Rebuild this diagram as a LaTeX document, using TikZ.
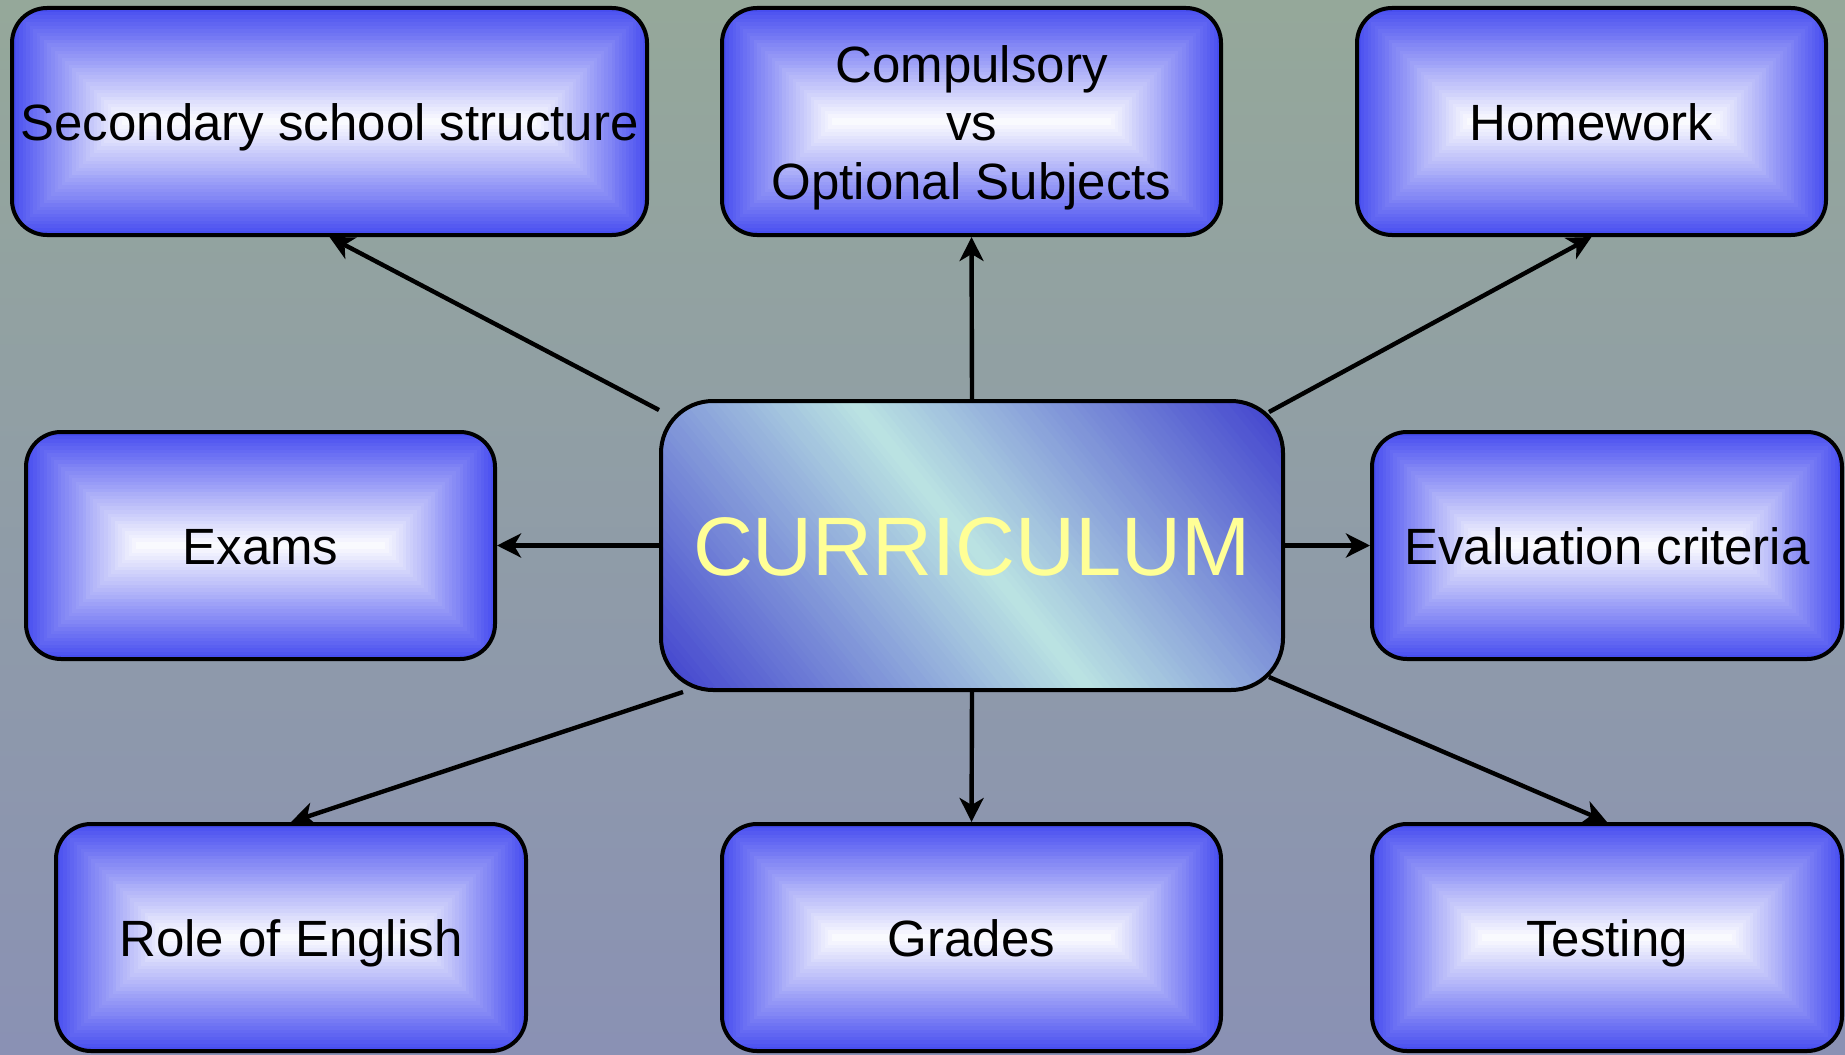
\documentclass[tikz,border=0pt]{standalone}
\usepackage{fontspec}
\setmainfont{Liberation Sans}
\usetikzlibrary{arrows.meta,calc}
\definecolor{boxblue}{RGB}{72,78,240}
\definecolor{bgtop}{RGB}{149,168,154}
\definecolor{bgbot}{RGB}{138,145,180}
\definecolor{cdark}{RGB}{62,62,206}
\definecolor{cpale}{RGB}{186,226,226}
\definecolor{txtyellow}{RGB}{255,255,150}
\tikzset{
  boxnode/.style={draw=black, line width=2pt, rounded corners=17.5pt, inner sep=0pt,
    align=center, text height=19pt, text depth=0pt, font=\fontsize{25.5}{29.25}\selectfont},
  centernode/.style={draw=black, line width=2pt, rounded corners=26pt, inner sep=0pt,
    text=txtyellow, text height=30pt, text depth=0pt, font=\fontsize{41.5}{48}\selectfont},
  arr/.style={draw=black, line width=2.2pt, -{Stealth[length=12pt, width=12pt, inset=3.5pt]}}
}
\newcommand\bevelbox[7][]{%
  \begin{scope}
    \clip[rounded corners=17.5pt] ({#3-#5/2},{#4-#6/2}) rectangle ({#3+#5/2},{#4+#6/2});
    \foreach \i in {0,...,32}{%
      \pgfmathsetmacro\dd{\i*#6/64}%
      \pgfmathtruncatemacro\cc{100-\i*100/32}%
      \fill[boxblue!\cc!white] ({#3-#5/2+\dd},{#4-#6/2+\dd}) rectangle ({#3+#5/2-\dd},{#4+#6/2-\dd});
    }
  \end{scope}
  \node[boxnode, minimum width=#5*0.5pt, minimum height=#6*0.5pt, #1] (#2) at (#3,#4) {#7};
}
\begin{document}
\begin{tikzpicture}[x=0.5pt, y=-0.5pt]
  \shade[top color=bgtop, bottom color=bgbot] (0,0) rectangle (1845,1054);
  \useasboundingbox (0,0) rectangle (1845,1054);

  \bevelbox{b1}{329.5}{121.5}{635}{227}{Secondary school structure}
  \bevelbox[text height=77.5pt]{b2}{971.5}{121.5}{499}{227}{Compulsory\\vs\\Optional Subjects}
  \bevelbox{b3}{1591.5}{121.5}{469}{227}{Homework}
  \bevelbox{b4}{260.5}{545.5}{469}{227}{Exams}
  \bevelbox{b5}{1607}{545.5}{470}{227}{Evaluation criteria}
  \bevelbox{b7}{291}{937.5}{470}{227}{Role of English}
  \bevelbox{b8}{971.5}{937.5}{499}{227}{Grades}
  \bevelbox{b9}{1607}{937.5}{470}{227}{Testing}

  % diagonal shading of the central box
  \begin{scope}
    \clip[rounded corners=26pt] (661,401) rectangle (1283,690);
    \foreach \t in {-348,-342,...,342}{%
      \pgfmathtruncatemacro\p{min(100,abs(\t+3)/332*100)}%
      \fill[cdark!\p!cpale]
        ({972+\t*0.7748-420*0.6327},{545.5-\t*0.6327-420*0.7748}) --
        ({972+\t*0.7748+420*0.6327},{545.5-\t*0.6327+420*0.7748}) --
        ({972+(\t+7)*0.7748+420*0.6327},{545.5-(\t+7)*0.6327+420*0.7748}) --
        ({972+(\t+7)*0.7748-420*0.6327},{545.5-(\t+7)*0.6327-420*0.7748}) -- cycle;
    }
  \end{scope}
  \node[centernode, minimum width=311pt, minimum height=144.5pt] (c) at (972,545.5) {CURRICULUM};

  \coordinate (s1) at ($(c.north west)+(0,11)$);
  \coordinate (s3) at ($(c.north east)+(-16,13)$);
  \coordinate (s7) at ($(c.south west)+(24,0)$);
  \coordinate (s9) at ($(c.south east)+(-16,-15)$);

  \draw[arr] (s1) -- (b1.south);
  \draw[arr] (c.north) -- (b2.south);
  \draw[arr] (s3) -- (b3.south);
  \draw[arr] (c.west) -- (b4.east);
  \draw[arr] (c.east) -- (b5.west);
  \draw[arr] (s7) -- (b7.north);
  \draw[arr] (c.south) -- (b8.north);
  \draw[arr] (s9) -- (b9.north);
\end{tikzpicture}
\end{document}
